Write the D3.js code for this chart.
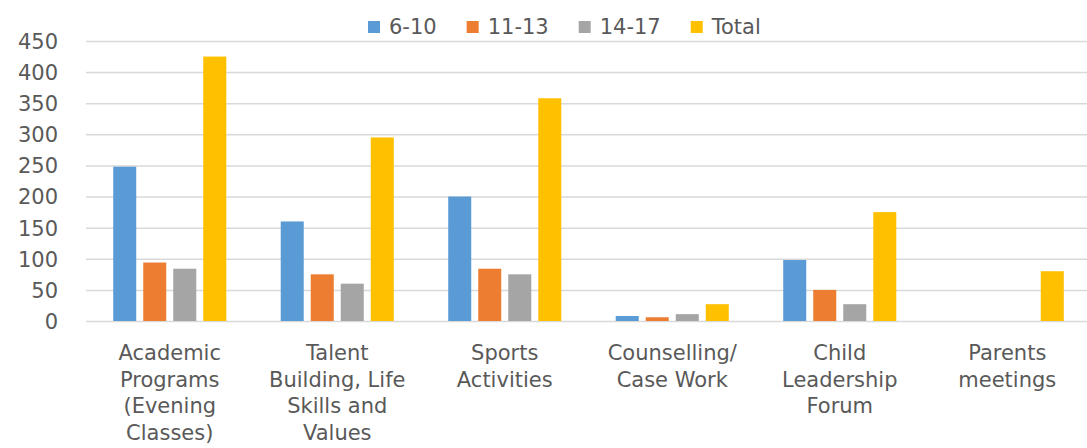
<!DOCTYPE html>
<html>
<head>
<meta charset="utf-8">
<script src="https://cdn.jsdelivr.net/npm/d3@7"></script>
<style>
  body { margin: 0; background: #fff; }
  svg { display: block; }
  text { font-family: "DejaVu Sans", sans-serif; fill: #595959; }
</style>
</head>
<body>
<div id="chart"></div>
<script>
// chart data
var categories = [
  ["Academic", "Programs", "(Evening", "Classes)"],
  ["Talent", "Building, Life", "Skills and", "Values"],
  ["Sports", "Activities"],
  ["Counselling/", "Case Work"],
  ["Child", "Leadership", "Forum"],
  ["Parents", "meetings"]
];
var seriesNames = ["6-10", "11-13", "14-17", "Total"];
var age6to10 = [248, 160, 200, 8, 98, 0];
var age11to13 = [94, 75, 84, 6, 50, 0];
var age14to17 = [84, 60, 75, 11, 27, 0];
var total = [425, 295, 358, 27, 175, 80];
var yTicks = [0, 50, 100, 150, 200, 250, 300, 350, 400, 450];

var colors = ["#5B9BD5", "#ED7D31", "#A5A5A5", "#FFC000"];
var seriesValues = [age6to10, age11to13, age14to17, total];

var svgWidth = 1087;
var svgHeight = 448;

var svg = d3.select("#chart")
    .append("svg")
    .attr("width", svgWidth)
    .attr("height", svgHeight);

// scales
var x0 = d3.scaleBand()
    .domain(d3.range(categories.length))
    .range([86, 1091])
    .paddingInner(0.325)
    .paddingOuter(0.1625);

var x1 = d3.scaleBand()
    .domain(seriesNames)
    .range([0, x0.bandwidth()])
    .paddingInner(0.233);

var y = d3.scaleLinear()
    .domain([0, 450])
    .range([321, 41]);

// gridlines
svg.append("g")
    .selectAll("line")
    .data(yTicks)
    .enter()
    .append("line")
    .attr("x1", 86)
    .attr("x2", svgWidth)
    .attr("y1", d => y(d) + 0.5)
    .attr("y2", d => y(d) + 0.5)
    .attr("stroke", "#d9d9d9")
    .attr("stroke-width", 1.5);

// y axis labels
var yAxis = d3.axisLeft(y).tickValues(yTicks).tickSize(0).tickPadding(0);
var yg = svg.append("g")
    .attr("transform", "translate(58,0)")
    .call(yAxis);
yg.select(".domain").remove();
yg.selectAll("text")
    .style("font-family", "DejaVu Sans")
    .style("font-size", "21px")
    .attr("fill", "#595959")
    .attr("dy", "0.35em");

// bars
var groups = svg.append("g")
    .selectAll("g")
    .data(categories)
    .enter()
    .append("g")
    .attr("transform", (d, i) => `translate(${x0(i)},0)`);

groups.selectAll("rect")
    .data((d, i) => seriesNames.map((s, j) => ({ name: s, value: seriesValues[j][i], color: colors[j] })))
    .enter()
    .append("rect")
    .attr("x", d => x1(d.name))
    .attr("width", x1.bandwidth())
    .attr("y", d => y(d.value))
    .attr("height", d => y(0) - y(d.value))
    .attr("fill", d => d.color);

// category labels
groups.append("text")
    .attr("x", x0.bandwidth() / 2)
    .attr("y", 360)
    .attr("text-anchor", "middle")
    .style("font-size", "21px")
    .selectAll("tspan")
    .data(d => d)
    .enter()
    .append("tspan")
    .attr("x", x0.bandwidth() / 2)
    .attr("dy", (d, i) => i === 0 ? 0 : 26.5)
    .text(d => d);

// legend
var legend = svg.append("g");
var lx = 0;
seriesNames.forEach(function(name, i) {
  var item = legend.append("g").attr("transform", `translate(${lx},0)`);
  item.append("rect")
    .attr("x", 0)
    .attr("y", 21)
    .attr("width", 12)
    .attr("height", 12)
    .attr("fill", colors[i]);
  var t = item.append("text")
    .attr("x", 21)
    .attr("y", 34)
    .style("font-size", "21px")
    .text(name);
  lx += 21 + t.node().getComputedTextLength() + 30;
});
legend.attr("transform", `translate(${368},0)`);
</script>
</body>
</html>
